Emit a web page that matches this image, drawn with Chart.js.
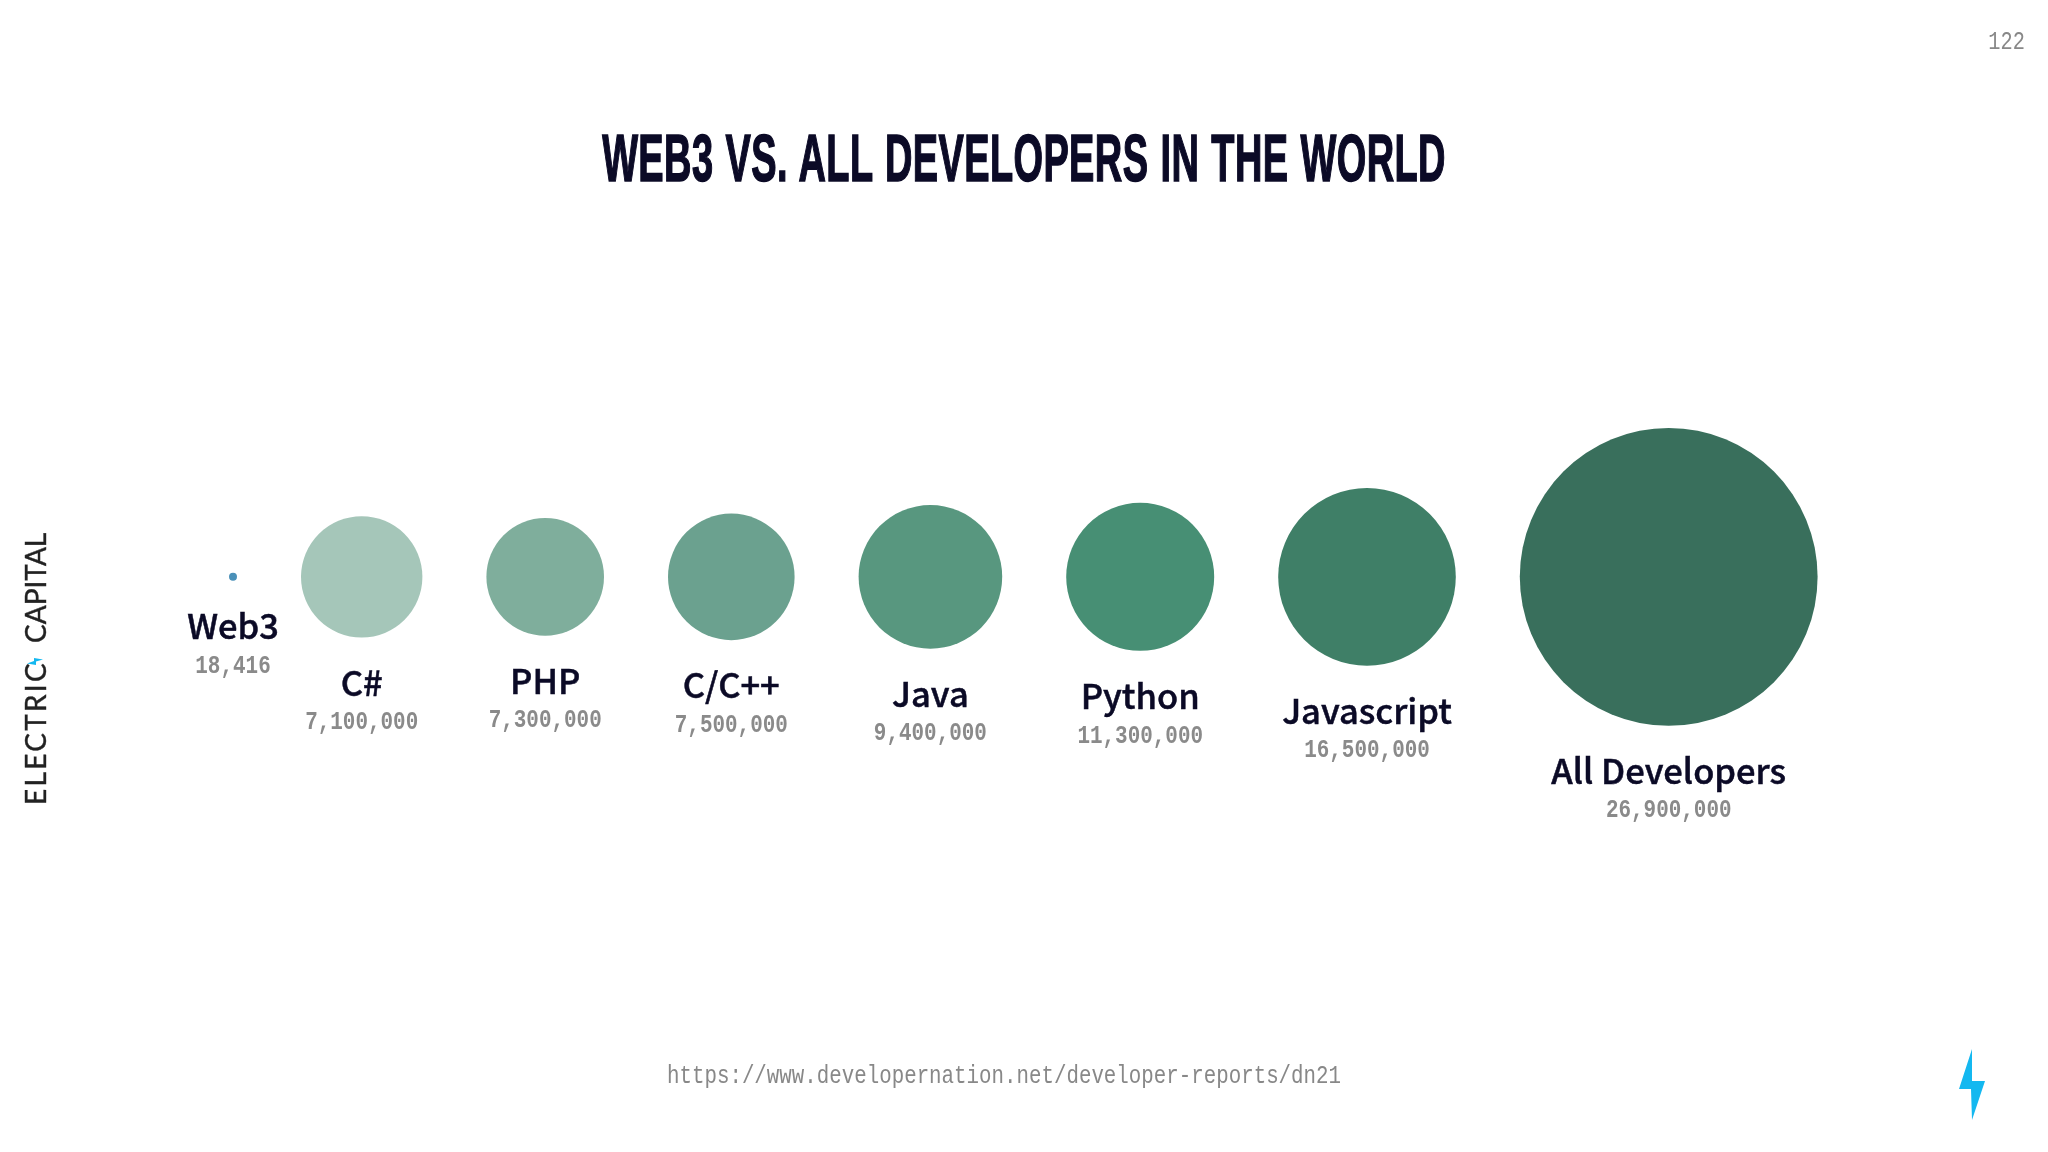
<!DOCTYPE html>
<html lang="en">
<head>
<meta charset="UTF-8">
<title>Web3 vs. all developers in the world</title>
<script src="https://cdn.jsdelivr.net/npm/chart.js@4"></script>
<style>
  html, body { margin: 0; padding: 0; background: #fff; }
  body { width: 2048px; height: 1152px; position: relative; overflow: hidden; }
  #chart { position: absolute; left: 0; top: 0; }
  .txt { position: absolute; white-space: nowrap; }
  #title { left: 0; width: 2048px; top: 116px; text-align: center; font: bold 66px "Liberation Sans Narrow", "Liberation Sans", sans-serif; line-height: 84px; color: #0b0a26; -webkit-text-stroke: 1.5px #0b0a26; letter-spacing: 0.7px; word-spacing: 2px; transform: scaleX(0.575); transform-origin: 1024px 0; }
  #page { right: 23px; top: 27px; font: 26px "Liberation Mono", monospace; color: #888; transform: scaleX(0.78); transform-origin: 100% 0; }
  #source { left: 667px; top: 1061px; font: 26px "Liberation Mono", monospace; color: #888; transform: scaleX(0.8); transform-origin: 0 0; }
  #brand { left: 25px; top: 805px; width: 271px; height: 20px; transform-origin: 0 0; transform: rotate(-90deg); }
  #brand span { position: absolute; top: -7px; font: 28px Lato, sans-serif; line-height: 34px; color: #222; -webkit-text-stroke: 0.4px #222; }
  svg { position: absolute; }
</style>
</head>
<body>
<canvas id="chart" width="2048" height="1152"></canvas>
<div class="txt" id="title">WEB3 VS. ALL DEVELOPERS IN THE WORLD</div>
<div class="txt" id="page">122</div>
<div class="txt" id="source">https://www.developernation.net/developer-reports/dn21</div>
<div class="txt" id="brand"><span style="left:0;letter-spacing:2.3px">ELECTRIC</span><span style="left:162px">CAPITAL</span></div>
<svg style="left:0;top:0" width="2048" height="1152">
  <polygon points="1972,1049 1959,1089 1971,1089 1972,1120 1985,1081 1972,1081" fill="#14b8f0"/>
  <polygon points="43,659.5 34,658 34,661 27,663.5 36,665 36,661.5" fill="#14b8f0"/>
</svg>
<script>
const categories = ['Web3', 'C#', 'PHP', 'C/C++', 'Java', 'Python', 'Javascript', 'All Developers']
const developers = [18416, 7100000, 7300000, 7500000, 9400000, 11300000, 16500000, 26900000]

// look of the bubbles
const radii = [4, 60.7, 58.8, 63.3, 71.8, 74, 88.8, 148.9]
const colors = ['#4a90b8', '#a5c6b9', '#7fae9c', '#6ba18f', '#58977f', '#478f74', '#3f7f67', '#396f5c']
const firstCenter = 233
const gap = 64

// bubbles sit side by side with the same gap between the edges
var centers = []
radii.forEach((r, i) => {
  centers.push(i == 0 ? firstCenter : centers[i - 1] + radii[i - 1] + gap + r)
})

const bubbleLabels = {
  id: 'bubbleLabels',
  afterDatasetsDraw(chart) {
    const ctx = chart.ctx
    const yMid = chart.scales.y.getPixelForValue(0)
    ctx.save()
    ctx.textAlign = 'center'
    ctx.textBaseline = 'middle'
    categories.forEach((name, i) => {
      const x = chart.scales.x.getPixelForValue(centers[i])
      const bottom = yMid + radii[i]
      ctx.fillStyle = '#0b0a26'
      ctx.strokeStyle = '#0b0a26'
      ctx.lineWidth = 0.5
      ctx.font = '500 34.5px "Noto Sans CJK JP", "Noto Sans", sans-serif'
      ctx.fillText(name, x, bottom + 45)
      ctx.strokeText(name, x, bottom + 45)
      // value labels are a narrow mono, so squeeze the mono we have
      ctx.save()
      ctx.translate(x, bottom + 85)
      ctx.scale(0.79, 1)
      ctx.fillStyle = '#8a8a8a'
      ctx.font = 'bold 26.5px "Liberation Mono", monospace'
      ctx.fillText(developers[i].toLocaleString('en-US'), 0, 0)
      ctx.restore()
    })
    ctx.restore()
  }
}

new Chart(document.getElementById('chart'), {
  type: 'bubble',
  data: {
    datasets: [{
      label: 'Developers',
      data: developers.map((v, i) => ({ x: centers[i], y: 0, r: radii[i], developers: v })),
      backgroundColor: colors,
      borderWidth: 0,
      hoverRadius: 0
    }]
  },
  options: {
    responsive: false,
    animation: false,
    layout: { padding: 0, autoPadding: false },
    plugins: { legend: { display: false }, title: { display: false }, tooltip: { enabled: false } },
    scales: {
      x: { type: 'linear', display: false, min: 0, max: 2048 },
      y: { type: 'linear', display: false, min: -0.9985, max: 1.0015 }
    }
  },
  plugins: [bubbleLabels]
})
</script>
</body>
</html>
